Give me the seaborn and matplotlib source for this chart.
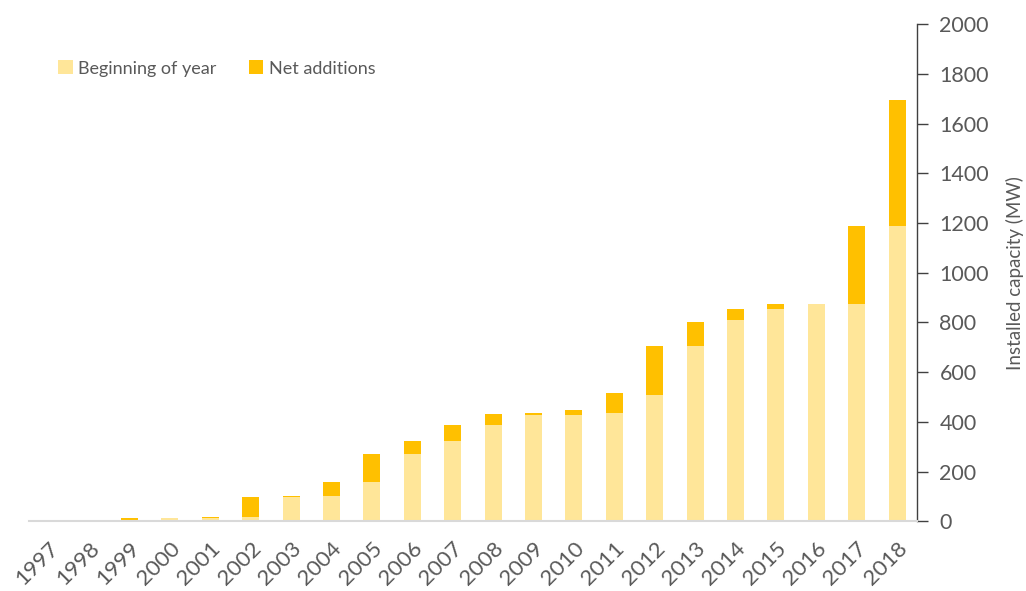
import matplotlib
matplotlib.use("Agg")
import matplotlib.pyplot as plt
import seaborn as sns
import numpy as np
from matplotlib.patches import Patch

years = [str(y) for y in range(1997, 2019)]
beginning = [0, 2, 7, 12, 12, 17, 97, 102, 159, 271, 323, 386, 429, 429, 435, 508, 705, 811, 855, 874, 873, 1190]
net_additions = [0, 5, 5, 0, 5, 80, 5, 57, 112, 52, 63, 45, 6, 19, 83, 197, 97, 44, 19, 0, 317, 505]
yticks = list(range(0, 2001, 200))

light = "#FFE699"
dark = "#FFC000"
text_col = "#595959"

sns.set_theme(style="white")
plt.rcParams["font.family"] = ["Lato", "DejaVu Sans"]

total = [b + n for b, n in zip(beginning, net_additions)]

fig = plt.figure(figsize=(10.26, 5.91), dpi=100)
ax = fig.add_axes([0.0278, 0.118, 0.8662, 0.841])

sns.barplot(x=years, y=total, color=dark, saturation=1, width=0.42, linewidth=0, ax=ax)
sns.barplot(x=years, y=beginning, color=light, saturation=1, width=0.42, linewidth=0, ax=ax)

ax.set_xlim(-0.5, len(years) - 0.5)
ax.set_ylim(0, 2000)
ax.set_yticks(yticks)
ax.yaxis.tick_right()
ax.yaxis.set_label_position("right")
ax.tick_params(axis="y", which="both", right=True, left=False, direction="out",
               length=8, width=1, color="#404040", labelsize=15.5, labelcolor=text_col, pad=8)
ax.tick_params(axis="x", bottom=False, labelsize=16, labelcolor=text_col, pad=6)
for lbl in ax.get_xticklabels():
    lbl.set_rotation(45)
    lbl.set_ha("right")
    lbl.set_va("top")
    lbl.set_rotation_mode("anchor")

for s in ["top", "left"]:
    ax.spines[s].set_visible(False)
ax.spines["right"].set_color("#404040")
ax.spines["right"].set_linewidth(1)
ax.spines["bottom"].set_color("#d9d9d9")
ax.spines["bottom"].set_linewidth(1.5)

ax.set_xlabel("")
ax.set_ylabel("Installed capacity (MW)", fontsize=13.5, color=text_col, labelpad=12)

handles = [Patch(facecolor=light, edgecolor="none"), Patch(facecolor=dark, edgecolor="none")]
ax.legend(handles, ["Beginning of year", "Net additions"], loc="upper left",
          bbox_to_anchor=(0.015, 0.96), ncol=2, frameon=False, fontsize=13,
          labelcolor=text_col, handlelength=0.8, handleheight=0.8, handletextpad=0.3,
          columnspacing=1.8)

fig.savefig("out.png", dpi=100)
